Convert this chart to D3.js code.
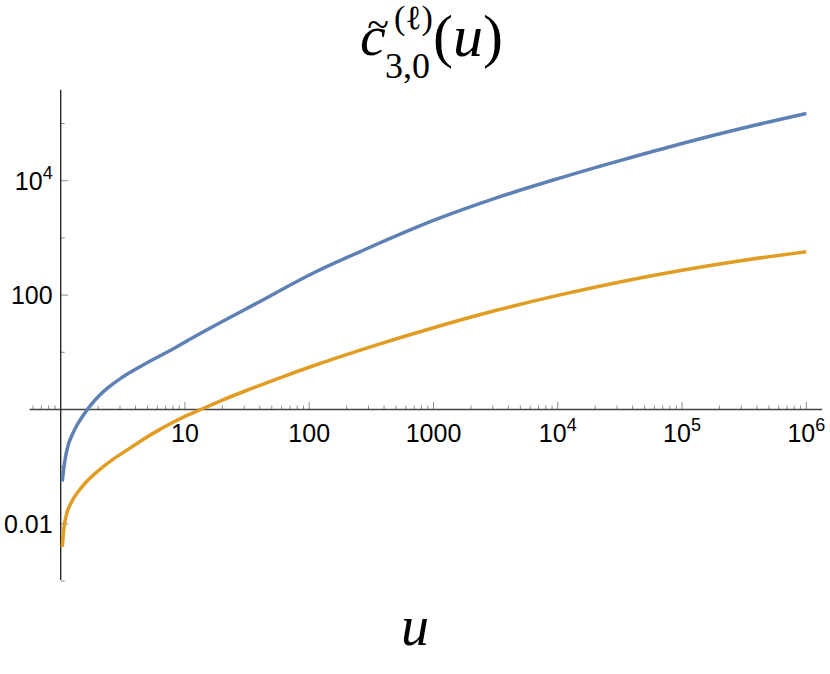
<!DOCTYPE html>
<html>
<head>
<meta charset="utf-8">
<script src="https://cdn.jsdelivr.net/npm/d3@7"></script>
<style>
  body { margin: 0; background: #fff; }
  svg { display: block; }
</style>
</head>
<body>
<div id="view"></div>
<script>
'use strict';

// curve samples (u, value)
const uBlue = [1.03, 1.06, 1.10, 1.15, 1.225, 1.33, 1.43, 1.57, 1.72, 2.0, 2.42, 3.1, 4.2, 5.74, 7.8, 10.6,
  19.8, 36.6, 111, 290, 1000, 3160, 10000, 31600, 100000, 316000, 1000000];
const cBlue = [0.055, 0.0955, 0.158, 0.24, 0.344, 0.499, 0.65, 0.879, 1.146, 1.67, 2.43, 3.61, 5.36, 7.8, 11.1, 16.2,
  34.1, 69.5, 251, 646, 2018, 4955, 10840, 22390, 44670, 84140, 149600];

const uOrange = [1.03, 1.06, 1.10, 1.22, 1.4, 1.57, 1.85, 2.19, 2.6, 3.18, 4.5, 6.0, 7.6, 10, 13.7, 20,
  31.6, 56, 111, 316, 1000, 3160, 10000, 31600, 100000, 316000, 1000000];
const cOrange = [0.00398, 0.00832, 0.0132, 0.024, 0.038, 0.0513, 0.0729, 0.0995, 0.132, 0.176, 0.291, 0.423, 0.562, 0.76, 1.02, 1.46,
  2.17, 3.48, 5.94, 12.6, 26.9, 53.7, 98.9, 170, 272, 407, 575];

// axis ticks
const xTickValues = [10, 100, 1000, 1e4, 1e5, 1e6];
const xTickLabels = ['10', '100', '1000', '10^4', '10^5', '10^6'];
const yTickValues = [0.01, 100, 1e4];
const yTickLabels = ['0.01', '100', '10^4'];
const yMinorTickValues = [1e-3, 0.1, 10, 1000, 1e5];
const xLeftMinorTicks = [0.6, 0.7, 0.8, 0.9];

const size = { w: 830, h: 674 };

const presentation = {
  stroke_blue: '#5E81B5',
  stroke_orange: '#E19C24',
  stroke_axisX: '#444',
  stroke_axisY: '#1a1a1a',
  stroke_tick: '#8a8a8a',
  fill_text: '#000',
  font_ticks: "'Liberation Sans'",
  font_math: "'Liberation Serif'"
};

const x = d3.scaleLog().domain([1, 1e6]).range([60.7, 806.3]);
const y = d3.scaleLog().domain([0.01, 1e4]).range([523.9, 180.7]);

const xExtent = [0.562, 1.34e6];
const yExtent = [1.05e-3, 3.9e5];

const svg = d3.select('#view').append('svg')
  .attr('width', size.w)
  .attr('height', size.h);

// minor x ticks: 2..9 in every decade
const xMinorTicks = xLeftMinorTicks.slice();
for (let e = 0; e < 6; ++e) {
  for (let m = 2; m <= 9; ++m) xMinorTicks.push(m * Math.pow(10, e));
}

const gAxes = svg.append('g').attr('class', 'axes');

function tickLines(cls, data, len, horizontal) {
  gAxes.selectAll('line.' + cls)
    .data(data)
    .enter().append('line')
    .attr('class', cls)
    .attr('x1', d => horizontal ? x(d) : x(1))
    .attr('x2', d => horizontal ? x(d) : x(1) + len)
    .attr('y1', d => horizontal ? y(1) : y(d))
    .attr('y2', d => horizontal ? y(1) - len : y(d))
    .attr('stroke', presentation.stroke_tick)
    .attr('stroke-width', 1);
}

tickLines('xminor', xMinorTicks, 4, true);
tickLines('xmajor', xTickValues, 7.5, true);
tickLines('yminor', yMinorTickValues, 4, false);
tickLines('ymajor', yTickValues, 7.5, false);

gAxes.append('line')
  .attr('x1', x(xExtent[0])).attr('x2', x(xExtent[1]))
  .attr('y1', y(1)).attr('y2', y(1))
  .attr('stroke', presentation.stroke_axisX)
  .attr('stroke-width', 1.3);

gAxes.append('line')
  .attr('x1', x(1)).attr('x2', x(1))
  .attr('y1', y(yExtent[0])).attr('y2', y(yExtent[1]))
  .attr('stroke', presentation.stroke_axisY)
  .attr('stroke-width', 1.3);

// "10^4" -> 10 with raised 4
function writeLabel(sel, label) {
  const parts = label.split('^');
  sel.append('tspan').text(parts[0]);
  if (parts.length > 1) {
    sel.append('tspan')
      .attr('dy', -11)
      .style('font-size', '18px')
      .text(parts[1]);
  }
}

gAxes.selectAll('text.xlabel')
  .data(xTickValues)
  .enter().append('text')
  .attr('class', 'xlabel')
  .attr('x', d => x(d))
  .attr('y', y(1) + 32)
  .attr('text-anchor', 'middle')
  .style('font-family', presentation.font_ticks)
  .style('font-size', '25px')
  .attr('fill', presentation.fill_text)
  .each(function(d, i) { writeLabel(d3.select(this), xTickLabels[i]); });

gAxes.selectAll('text.ylabel')
  .data(yTickValues)
  .enter().append('text')
  .attr('class', 'ylabel')
  .attr('x', x(1) - 8)
  .attr('y', d => y(d) + 9)
  .attr('text-anchor', 'end')
  .style('font-family', presentation.font_ticks)
  .style('font-size', '25px')
  .attr('fill', presentation.fill_text)
  .each(function(d, i) { writeLabel(d3.select(this), yTickLabels[i]); });

// curves
const line = d3.line()
  .x(d => x(d[0]))
  .y(d => y(d[1]))
  .curve(d3.curveMonotoneX);

const series = [
  { pts: d3.zip(uBlue, cBlue), color: presentation.stroke_blue },
  { pts: d3.zip(uOrange, cOrange), color: presentation.stroke_orange }
];

svg.append('g').attr('class', 'curves')
  .selectAll('path')
  .data(series)
  .enter().append('path')
  .attr('d', d => line(d.pts))
  .attr('fill', 'none')
  .attr('stroke', d => d.color)
  .attr('stroke-width', 3.5)
  .attr('stroke-linejoin', 'round');

// title  c~^(l)_{3,0}(u)
const gTitle = svg.append('g')
  .style('font-family', presentation.font_math)
  .attr('fill', presentation.fill_text);

gTitle.append('text')
  .attr('x', 360).attr('y', 55)
  .style('font-size', '58px')
  .style('font-style', 'italic')
  .text('c');
gTitle.append('text')
  .attr('x', 378).attr('y', 38)
  .attr('text-anchor', 'middle')
  .style('font-size', '40px')
  .text('~');
gTitle.append('text')
  .attr('x', 394).attr('y', 29)
  .style('font-size', '34px')
  .text('(\u2113)');
gTitle.append('text')
  .attr('x', 385).attr('y', 78)
  .style('font-size', '36px')
  .text('3,0');
gTitle.append('text')
  .attr('x', 433).attr('y', 56)
  .style('font-size', '60px')
  .html('(<tspan style="font-style:italic">u</tspan>)');

// axis label
svg.append('text')
  .attr('x', 415).attr('y', 645)
  .attr('text-anchor', 'middle')
  .style('font-family', presentation.font_math)
  .style('font-style', 'italic')
  .style('font-size', '56px')
  .attr('fill', presentation.fill_text)
  .text('u');
</script>
</body>
</html>
